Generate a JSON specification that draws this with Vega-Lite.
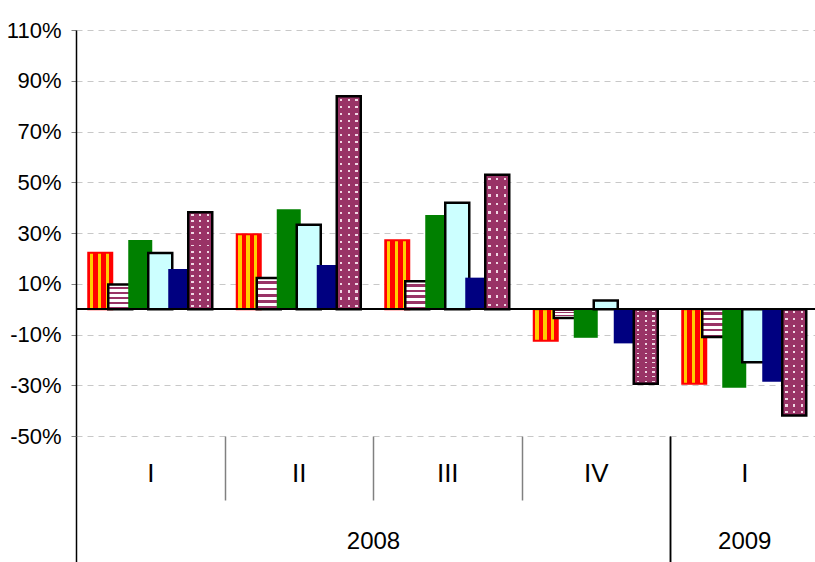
{
  "$schema": "https://vega.github.io/schema/vega-lite/v6.json",
  "background": "white",
  "padding": {"left": 6, "top": 19, "right": 0, "bottom": 0},
  "spacing": 0,
  "bounds": "flush",
  "config": {"view": {"stroke": null}},
  "data": {"values": [
    {"year": "2008", "q": "I", "s": "S1", "v": 22.2},
    {"year": "2008", "q": "I", "s": "S2", "v": 9.7},
    {"year": "2008", "q": "I", "s": "S3", "v": 27.2},
    {"year": "2008", "q": "I", "s": "S4", "v": 22.1},
    {"year": "2008", "q": "I", "s": "S5", "v": 15.8},
    {"year": "2008", "q": "I", "s": "S6", "v": 38.2},
    {"year": "2008", "q": "II", "s": "S1", "v": 29.5},
    {"year": "2008", "q": "II", "s": "S2", "v": 12.3},
    {"year": "2008", "q": "II", "s": "S3", "v": 39.4},
    {"year": "2008", "q": "II", "s": "S4", "v": 33.3},
    {"year": "2008", "q": "II", "s": "S5", "v": 17.4},
    {"year": "2008", "q": "II", "s": "S6", "v": 83.9},
    {"year": "2008", "q": "III", "s": "S1", "v": 27.1},
    {"year": "2008", "q": "III", "s": "S2", "v": 11.0},
    {"year": "2008", "q": "III", "s": "S3", "v": 37.1},
    {"year": "2008", "q": "III", "s": "S4", "v": 41.9},
    {"year": "2008", "q": "III", "s": "S5", "v": 12.4},
    {"year": "2008", "q": "III", "s": "S6", "v": 53.0},
    {"year": "2008", "q": "IV", "s": "S1", "v": -12.5},
    {"year": "2008", "q": "IV", "s": "S2", "v": -3.5},
    {"year": "2008", "q": "IV", "s": "S3", "v": -11.3},
    {"year": "2008", "q": "IV", "s": "S4", "v": 3.4},
    {"year": "2008", "q": "IV", "s": "S5", "v": -13.5},
    {"year": "2008", "q": "IV", "s": "S6", "v": -29.4},
    {"year": "2009", "q": "I", "s": "S1", "v": -29.4},
    {"year": "2009", "q": "I", "s": "S2", "v": -11.0},
    {"year": "2009", "q": "I", "s": "S3", "v": -31.0},
    {"year": "2009", "q": "I", "s": "S4", "v": -20.9},
    {"year": "2009", "q": "I", "s": "S5", "v": -28.6},
    {"year": "2009", "q": "I", "s": "S6", "v": -41.9}
  ]},
  "resolve": {"scale": {"x": "independent", "y": "independent"}, "axis": {"x": "independent", "y": "independent"}},
  "hconcat": [
    {
      "width": 594,
      "height": 406,
      "transform": [{"filter": "datum.year === '2008'"}],
      "layer": [
        {
          "mark": {"type": "bar", "width": 24},
          "encoding": {
            "x": {"field": "q", "type": "nominal", "title": "2008",
              "scale": {"domain": ["I", "II", "III", "IV"], "paddingInner": 0, "paddingOuter": 0},
              "axis": {"labelAngle": 0, "labelFont": "Liberation Sans", "labelFontSize": 26, "labelColor": "#000000", "labelBaseline": "top",
                "labelPadding": {"condition": {"test": "!datum.value || datum.value === 'IV'", "value": -102}, "value": -40},
                "tickBand": "extent", "tickSize": {"condition": {"test": "!datum.value || datum.value === 'IV'", "value": 126}, "value": 64},
                "tickColor": {"condition": {"test": "!datum.value || datum.value === 'IV'", "value": "#000000"}, "value": "#808080"}, "tickWidth": 1.5,
                "domain": false, "grid": false,
                "titleFont": "Liberation Sans", "titleFontSize": 24, "titleFontWeight": "normal", "titleColor": "#000000", "titleBaseline": "middle", "titleY": 105}},
            "xOffset": {"field": "s", "type": "nominal", "scale": {"domain": ["S1", "S2", "S3", "S4", "S5", "S6"], "paddingInner": 0, "paddingOuter": 0.7125}},
            "y": {"field": "v", "type": "quantitative", "title": null,
              "scale": {"domain": [-50, 110], "nice": false, "zero": false},
              "axis": {"values": [-50, -30, -10, 10, 30, 50, 70, 90, 110], "labelExpr": "(datum.value < 0 ? '-' : '') + abs(datum.value) + '%'",
                "labelFont": "Liberation Sans", "labelFontSize": 22, "labelColor": "#000000", "labelPadding": 10,
                "tickSize": 5, "tickColor": "#808080", "domainColor": "#000000", "domainWidth": 1.5,
                "grid": true, "gridColor": "#c8c8c8", "gridDash": [6, 5]}},
            "fill": {"condition": [
              {"test": "datum.s === 'S1'", "value": {"gradient": "linear", "x1": 0, "y1": 0, "x2": 1, "y2": 0, "stops": [
                {"offset": 0, "color": "#ff0000"}, {"offset": 0.06, "color": "#ff0000"}, {"offset": 0.06, "color": "#ffcc00"}, {"offset": 0.2, "color": "#ffcc00"},
                {"offset": 0.2, "color": "#ff0000"}, {"offset": 0.4, "color": "#ff0000"}, {"offset": 0.4, "color": "#ffcc00"}, {"offset": 0.54, "color": "#ffcc00"},
                {"offset": 0.54, "color": "#ff0000"}, {"offset": 0.72, "color": "#ff0000"}, {"offset": 0.72, "color": "#ffcc00"}, {"offset": 0.86, "color": "#ffcc00"},
                {"offset": 0.86, "color": "#ff0000"}, {"offset": 1, "color": "#ff0000"}]}},
              {"test": "datum.s === 'S2'", "value": {"gradient": "linear", "x1": 0, "y1": 0, "x2": 0, "y2": 1, "stops": [
                {"offset": 0, "color": "#ffffff"}, {"offset": 0.11, "color": "#ffffff"}, {"offset": 0.11, "color": "#993366"}, {"offset": 0.2, "color": "#993366"},
                {"offset": 0.2, "color": "#ffffff"}, {"offset": 0.31, "color": "#ffffff"}, {"offset": 0.31, "color": "#993366"}, {"offset": 0.4, "color": "#993366"},
                {"offset": 0.4, "color": "#ffffff"}, {"offset": 0.51, "color": "#ffffff"}, {"offset": 0.51, "color": "#993366"}, {"offset": 0.6, "color": "#993366"},
                {"offset": 0.6, "color": "#ffffff"}, {"offset": 0.71, "color": "#ffffff"}, {"offset": 0.71, "color": "#993366"}, {"offset": 0.8, "color": "#993366"},
                {"offset": 0.8, "color": "#ffffff"}, {"offset": 0.91, "color": "#ffffff"}, {"offset": 0.91, "color": "#993366"}, {"offset": 1, "color": "#993366"}]}},
              {"test": "datum.s === 'S3'", "value": "#008000"},
              {"test": "datum.s === 'S4'", "value": "#ccffff"},
              {"test": "datum.s === 'S5'", "value": "#000080"}],
              "value": {"gradient": "linear", "x1": 0, "y1": 0, "x2": 1, "y2": 0, "stops": [
                {"offset": 0, "color": "#993366"}, {"offset": 0.13, "color": "#993366"}, {"offset": 0.13, "color": "#f0d8e4"}, {"offset": 0.22, "color": "#f0d8e4"},
                {"offset": 0.22, "color": "#993366"}, {"offset": 0.455, "color": "#993366"}, {"offset": 0.455, "color": "#f0d8e4"}, {"offset": 0.545, "color": "#f0d8e4"},
                {"offset": 0.545, "color": "#993366"}, {"offset": 0.78, "color": "#993366"}, {"offset": 0.78, "color": "#f0d8e4"}, {"offset": 0.87, "color": "#f0d8e4"},
                {"offset": 0.87, "color": "#993366"}, {"offset": 1, "color": "#993366"}]}},
            "stroke": {"condition": [{"test": "datum.s === 'S1'", "value": "#ff0000"}, {"test": "datum.s === 'S2' || datum.s === 'S4'", "value": "#000000"}], "value": "transparent"},
            "strokeWidth": {"condition": {"test": "datum.s === 'S1'", "value": 2}, "value": 2.5}
          }
        },
        {
          "transform": [{"filter": "datum.s === 'S6'"}],
          "mark": {"type": "bar", "width": 24, "stroke": "#000000", "strokeWidth": 2.5},
          "encoding": {
            "x": {"field": "q", "type": "nominal", "title": "2008", "scale": {"domain": ["I", "II", "III", "IV"], "paddingInner": 0, "paddingOuter": 0}},
            "xOffset": {"field": "s", "type": "nominal", "scale": {"domain": ["S1", "S2", "S3", "S4", "S5", "S6"], "paddingInner": 0, "paddingOuter": 0.7125}},
            "y": {"field": "v", "type": "quantitative", "title": null, "scale": {"domain": [-50, 110], "nice": false, "zero": false}},
            "fill": {"condition": {"test": "abs(datum.v) > 70", "value": {"gradient": "linear", "x1": 0, "y1": 0, "x2": 0, "y2": 1, "stops": [
              {"offset": 0, "color": "#993366"},
              {"offset": 0.012, "color": "#993366"}, {"offset": 0.012, "color": "rgba(153,51,102,0)"}, {"offset": 0.022, "color": "rgba(153,51,102,0)"}, {"offset": 0.022, "color": "#993366"},
              {"offset": 0.0453, "color": "#993366"}, {"offset": 0.0453, "color": "rgba(153,51,102,0)"}, {"offset": 0.0553, "color": "rgba(153,51,102,0)"}, {"offset": 0.0553, "color": "#993366"},
              {"offset": 0.0787, "color": "#993366"}, {"offset": 0.0787, "color": "rgba(153,51,102,0)"}, {"offset": 0.0887, "color": "rgba(153,51,102,0)"}, {"offset": 0.0887, "color": "#993366"},
              {"offset": 0.112, "color": "#993366"}, {"offset": 0.112, "color": "rgba(153,51,102,0)"}, {"offset": 0.122, "color": "rgba(153,51,102,0)"}, {"offset": 0.122, "color": "#993366"},
              {"offset": 0.1453, "color": "#993366"}, {"offset": 0.1453, "color": "rgba(153,51,102,0)"}, {"offset": 0.1553, "color": "rgba(153,51,102,0)"}, {"offset": 0.1553, "color": "#993366"},
              {"offset": 0.1787, "color": "#993366"}, {"offset": 0.1787, "color": "rgba(153,51,102,0)"}, {"offset": 0.1887, "color": "rgba(153,51,102,0)"}, {"offset": 0.1887, "color": "#993366"},
              {"offset": 0.212, "color": "#993366"}, {"offset": 0.212, "color": "rgba(153,51,102,0)"}, {"offset": 0.222, "color": "rgba(153,51,102,0)"}, {"offset": 0.222, "color": "#993366"},
              {"offset": 0.2453, "color": "#993366"}, {"offset": 0.2453, "color": "rgba(153,51,102,0)"}, {"offset": 0.2553, "color": "rgba(153,51,102,0)"}, {"offset": 0.2553, "color": "#993366"},
              {"offset": 0.2787, "color": "#993366"}, {"offset": 0.2787, "color": "rgba(153,51,102,0)"}, {"offset": 0.2887, "color": "rgba(153,51,102,0)"}, {"offset": 0.2887, "color": "#993366"},
              {"offset": 0.312, "color": "#993366"}, {"offset": 0.312, "color": "rgba(153,51,102,0)"}, {"offset": 0.322, "color": "rgba(153,51,102,0)"}, {"offset": 0.322, "color": "#993366"},
              {"offset": 0.3453, "color": "#993366"}, {"offset": 0.3453, "color": "rgba(153,51,102,0)"}, {"offset": 0.3553, "color": "rgba(153,51,102,0)"}, {"offset": 0.3553, "color": "#993366"},
              {"offset": 0.3787, "color": "#993366"}, {"offset": 0.3787, "color": "rgba(153,51,102,0)"}, {"offset": 0.3887, "color": "rgba(153,51,102,0)"}, {"offset": 0.3887, "color": "#993366"},
              {"offset": 0.412, "color": "#993366"}, {"offset": 0.412, "color": "rgba(153,51,102,0)"}, {"offset": 0.422, "color": "rgba(153,51,102,0)"}, {"offset": 0.422, "color": "#993366"},
              {"offset": 0.4453, "color": "#993366"}, {"offset": 0.4453, "color": "rgba(153,51,102,0)"}, {"offset": 0.4553, "color": "rgba(153,51,102,0)"}, {"offset": 0.4553, "color": "#993366"},
              {"offset": 0.4787, "color": "#993366"}, {"offset": 0.4787, "color": "rgba(153,51,102,0)"}, {"offset": 0.4887, "color": "rgba(153,51,102,0)"}, {"offset": 0.4887, "color": "#993366"},
              {"offset": 0.512, "color": "#993366"}, {"offset": 0.512, "color": "rgba(153,51,102,0)"}, {"offset": 0.522, "color": "rgba(153,51,102,0)"}, {"offset": 0.522, "color": "#993366"},
              {"offset": 0.5453, "color": "#993366"}, {"offset": 0.5453, "color": "rgba(153,51,102,0)"}, {"offset": 0.5553, "color": "rgba(153,51,102,0)"}, {"offset": 0.5553, "color": "#993366"},
              {"offset": 0.5787, "color": "#993366"}, {"offset": 0.5787, "color": "rgba(153,51,102,0)"}, {"offset": 0.5887, "color": "rgba(153,51,102,0)"}, {"offset": 0.5887, "color": "#993366"},
              {"offset": 0.612, "color": "#993366"}, {"offset": 0.612, "color": "rgba(153,51,102,0)"}, {"offset": 0.622, "color": "rgba(153,51,102,0)"}, {"offset": 0.622, "color": "#993366"},
              {"offset": 0.6453, "color": "#993366"}, {"offset": 0.6453, "color": "rgba(153,51,102,0)"}, {"offset": 0.6553, "color": "rgba(153,51,102,0)"}, {"offset": 0.6553, "color": "#993366"},
              {"offset": 0.6787, "color": "#993366"}, {"offset": 0.6787, "color": "rgba(153,51,102,0)"}, {"offset": 0.6887, "color": "rgba(153,51,102,0)"}, {"offset": 0.6887, "color": "#993366"},
              {"offset": 0.712, "color": "#993366"}, {"offset": 0.712, "color": "rgba(153,51,102,0)"}, {"offset": 0.722, "color": "rgba(153,51,102,0)"}, {"offset": 0.722, "color": "#993366"},
              {"offset": 0.7453, "color": "#993366"}, {"offset": 0.7453, "color": "rgba(153,51,102,0)"}, {"offset": 0.7553, "color": "rgba(153,51,102,0)"}, {"offset": 0.7553, "color": "#993366"},
              {"offset": 0.7787, "color": "#993366"}, {"offset": 0.7787, "color": "rgba(153,51,102,0)"}, {"offset": 0.7887, "color": "rgba(153,51,102,0)"}, {"offset": 0.7887, "color": "#993366"},
              {"offset": 0.812, "color": "#993366"}, {"offset": 0.812, "color": "rgba(153,51,102,0)"}, {"offset": 0.822, "color": "rgba(153,51,102,0)"}, {"offset": 0.822, "color": "#993366"},
              {"offset": 0.8453, "color": "#993366"}, {"offset": 0.8453, "color": "rgba(153,51,102,0)"}, {"offset": 0.8553, "color": "rgba(153,51,102,0)"}, {"offset": 0.8553, "color": "#993366"},
              {"offset": 0.8787, "color": "#993366"}, {"offset": 0.8787, "color": "rgba(153,51,102,0)"}, {"offset": 0.8887, "color": "rgba(153,51,102,0)"}, {"offset": 0.8887, "color": "#993366"},
              {"offset": 0.912, "color": "#993366"}, {"offset": 0.912, "color": "rgba(153,51,102,0)"}, {"offset": 0.922, "color": "rgba(153,51,102,0)"}, {"offset": 0.922, "color": "#993366"},
              {"offset": 0.9453, "color": "#993366"}, {"offset": 0.9453, "color": "rgba(153,51,102,0)"}, {"offset": 0.9553, "color": "rgba(153,51,102,0)"}, {"offset": 0.9553, "color": "#993366"},
              {"offset": 0.9787, "color": "#993366"}, {"offset": 0.9787, "color": "rgba(153,51,102,0)"}, {"offset": 0.9887, "color": "rgba(153,51,102,0)"}, {"offset": 0.9887, "color": "#993366"},
              {"offset": 1, "color": "#993366"}]}},
              "value": {"gradient": "linear", "x1": 0, "y1": 0, "x2": 0, "y2": 1, "stops": [
              {"offset": 0, "color": "#993366"},
              {"offset": 0.022, "color": "#993366"}, {"offset": 0.022, "color": "rgba(153,51,102,0)"}, {"offset": 0.041, "color": "rgba(153,51,102,0)"}, {"offset": 0.041, "color": "#993366"},
              {"offset": 0.0845, "color": "#993366"}, {"offset": 0.0845, "color": "rgba(153,51,102,0)"}, {"offset": 0.1035, "color": "rgba(153,51,102,0)"}, {"offset": 0.1035, "color": "#993366"},
              {"offset": 0.147, "color": "#993366"}, {"offset": 0.147, "color": "rgba(153,51,102,0)"}, {"offset": 0.166, "color": "rgba(153,51,102,0)"}, {"offset": 0.166, "color": "#993366"},
              {"offset": 0.2095, "color": "#993366"}, {"offset": 0.2095, "color": "rgba(153,51,102,0)"}, {"offset": 0.2285, "color": "rgba(153,51,102,0)"}, {"offset": 0.2285, "color": "#993366"},
              {"offset": 0.272, "color": "#993366"}, {"offset": 0.272, "color": "rgba(153,51,102,0)"}, {"offset": 0.291, "color": "rgba(153,51,102,0)"}, {"offset": 0.291, "color": "#993366"},
              {"offset": 0.3345, "color": "#993366"}, {"offset": 0.3345, "color": "rgba(153,51,102,0)"}, {"offset": 0.3535, "color": "rgba(153,51,102,0)"}, {"offset": 0.3535, "color": "#993366"},
              {"offset": 0.397, "color": "#993366"}, {"offset": 0.397, "color": "rgba(153,51,102,0)"}, {"offset": 0.416, "color": "rgba(153,51,102,0)"}, {"offset": 0.416, "color": "#993366"},
              {"offset": 0.4595, "color": "#993366"}, {"offset": 0.4595, "color": "rgba(153,51,102,0)"}, {"offset": 0.4785, "color": "rgba(153,51,102,0)"}, {"offset": 0.4785, "color": "#993366"},
              {"offset": 0.522, "color": "#993366"}, {"offset": 0.522, "color": "rgba(153,51,102,0)"}, {"offset": 0.541, "color": "rgba(153,51,102,0)"}, {"offset": 0.541, "color": "#993366"},
              {"offset": 0.5845, "color": "#993366"}, {"offset": 0.5845, "color": "rgba(153,51,102,0)"}, {"offset": 0.6035, "color": "rgba(153,51,102,0)"}, {"offset": 0.6035, "color": "#993366"},
              {"offset": 0.647, "color": "#993366"}, {"offset": 0.647, "color": "rgba(153,51,102,0)"}, {"offset": 0.666, "color": "rgba(153,51,102,0)"}, {"offset": 0.666, "color": "#993366"},
              {"offset": 0.7095, "color": "#993366"}, {"offset": 0.7095, "color": "rgba(153,51,102,0)"}, {"offset": 0.7285, "color": "rgba(153,51,102,0)"}, {"offset": 0.7285, "color": "#993366"},
              {"offset": 0.772, "color": "#993366"}, {"offset": 0.772, "color": "rgba(153,51,102,0)"}, {"offset": 0.791, "color": "rgba(153,51,102,0)"}, {"offset": 0.791, "color": "#993366"},
              {"offset": 0.8345, "color": "#993366"}, {"offset": 0.8345, "color": "rgba(153,51,102,0)"}, {"offset": 0.8535, "color": "rgba(153,51,102,0)"}, {"offset": 0.8535, "color": "#993366"},
              {"offset": 0.897, "color": "#993366"}, {"offset": 0.897, "color": "rgba(153,51,102,0)"}, {"offset": 0.916, "color": "rgba(153,51,102,0)"}, {"offset": 0.916, "color": "#993366"},
              {"offset": 0.9595, "color": "#993366"}, {"offset": 0.9595, "color": "rgba(153,51,102,0)"}, {"offset": 0.9785, "color": "rgba(153,51,102,0)"}, {"offset": 0.9785, "color": "#993366"},
              {"offset": 1, "color": "#993366"}]}}
          }
        },
        {
          "mark": {"type": "rule", "color": "#000000", "strokeWidth": 1.2},
          "encoding": {"y": {"datum": 0, "type": "quantitative"}}
        }
      ]
    },
    {
      "width": 148.5,
      "height": 406,
      "transform": [{"filter": "datum.year === '2009'"}],
      "layer": [
        {
          "mark": {"type": "bar", "width": 24},
          "encoding": {
            "x": {"field": "q", "type": "nominal", "title": "2009",
              "scale": {"domain": ["I"], "paddingInner": 0, "paddingOuter": 0},
              "axis": {"labelAngle": 0, "labelFont": "Liberation Sans", "labelFontSize": 26, "labelColor": "#000000", "labelBaseline": "top",
                "labelPadding": {"condition": {"test": "!datum.value", "value": -102}, "value": -40},
                "tickBand": "extent", "tickSize": {"condition": {"test": "!datum.value", "value": 126}, "value": 64},
                "tickColor": "#000000", "tickWidth": 1.5,
                "domain": false, "grid": false,
                "titleFont": "Liberation Sans", "titleFontSize": 24, "titleFontWeight": "normal", "titleColor": "#000000", "titleBaseline": "middle", "titleY": 105}},
            "xOffset": {"field": "s", "type": "nominal", "scale": {"domain": ["S1", "S2", "S3", "S4", "S5", "S6"], "paddingInner": 0, "paddingOuter": 0.7125}},
            "y": {"field": "v", "type": "quantitative", "title": null,
              "scale": {"domain": [-50, 110], "nice": false, "zero": false},
              "axis": {"values": [-50, -30, -10, 10, 30, 50, 70, 90, 110], "labels": false, "ticks": false, "domain": false,
                "grid": true, "gridColor": "#c8c8c8", "gridDash": [6, 5], "minExtent": 0, "maxExtent": 0}},
            "fill": {"condition": [
              {"test": "datum.s === 'S1'", "value": {"gradient": "linear", "x1": 0, "y1": 0, "x2": 1, "y2": 0, "stops": [
                {"offset": 0, "color": "#ff0000"}, {"offset": 0.06, "color": "#ff0000"}, {"offset": 0.06, "color": "#ffcc00"}, {"offset": 0.2, "color": "#ffcc00"},
                {"offset": 0.2, "color": "#ff0000"}, {"offset": 0.4, "color": "#ff0000"}, {"offset": 0.4, "color": "#ffcc00"}, {"offset": 0.54, "color": "#ffcc00"},
                {"offset": 0.54, "color": "#ff0000"}, {"offset": 0.72, "color": "#ff0000"}, {"offset": 0.72, "color": "#ffcc00"}, {"offset": 0.86, "color": "#ffcc00"},
                {"offset": 0.86, "color": "#ff0000"}, {"offset": 1, "color": "#ff0000"}]}},
              {"test": "datum.s === 'S2'", "value": {"gradient": "linear", "x1": 0, "y1": 0, "x2": 0, "y2": 1, "stops": [
                {"offset": 0, "color": "#ffffff"}, {"offset": 0.11, "color": "#ffffff"}, {"offset": 0.11, "color": "#993366"}, {"offset": 0.2, "color": "#993366"},
                {"offset": 0.2, "color": "#ffffff"}, {"offset": 0.31, "color": "#ffffff"}, {"offset": 0.31, "color": "#993366"}, {"offset": 0.4, "color": "#993366"},
                {"offset": 0.4, "color": "#ffffff"}, {"offset": 0.51, "color": "#ffffff"}, {"offset": 0.51, "color": "#993366"}, {"offset": 0.6, "color": "#993366"},
                {"offset": 0.6, "color": "#ffffff"}, {"offset": 0.71, "color": "#ffffff"}, {"offset": 0.71, "color": "#993366"}, {"offset": 0.8, "color": "#993366"},
                {"offset": 0.8, "color": "#ffffff"}, {"offset": 0.91, "color": "#ffffff"}, {"offset": 0.91, "color": "#993366"}, {"offset": 1, "color": "#993366"}]}},
              {"test": "datum.s === 'S3'", "value": "#008000"},
              {"test": "datum.s === 'S4'", "value": "#ccffff"},
              {"test": "datum.s === 'S5'", "value": "#000080"}],
              "value": {"gradient": "linear", "x1": 0, "y1": 0, "x2": 1, "y2": 0, "stops": [
                {"offset": 0, "color": "#993366"}, {"offset": 0.13, "color": "#993366"}, {"offset": 0.13, "color": "#f0d8e4"}, {"offset": 0.22, "color": "#f0d8e4"},
                {"offset": 0.22, "color": "#993366"}, {"offset": 0.455, "color": "#993366"}, {"offset": 0.455, "color": "#f0d8e4"}, {"offset": 0.545, "color": "#f0d8e4"},
                {"offset": 0.545, "color": "#993366"}, {"offset": 0.78, "color": "#993366"}, {"offset": 0.78, "color": "#f0d8e4"}, {"offset": 0.87, "color": "#f0d8e4"},
                {"offset": 0.87, "color": "#993366"}, {"offset": 1, "color": "#993366"}]}},
            "stroke": {"condition": [{"test": "datum.s === 'S1'", "value": "#ff0000"}, {"test": "datum.s === 'S2' || datum.s === 'S4'", "value": "#000000"}], "value": "transparent"},
            "strokeWidth": {"condition": {"test": "datum.s === 'S1'", "value": 2}, "value": 2.5}
          }
        },
        {
          "transform": [{"filter": "datum.s === 'S6'"}],
          "mark": {"type": "bar", "width": 24, "stroke": "#000000", "strokeWidth": 2.5},
          "encoding": {
            "x": {"field": "q", "type": "nominal", "title": "2009", "scale": {"domain": ["I"], "paddingInner": 0, "paddingOuter": 0}},
            "xOffset": {"field": "s", "type": "nominal", "scale": {"domain": ["S1", "S2", "S3", "S4", "S5", "S6"], "paddingInner": 0, "paddingOuter": 0.7125}},
            "y": {"field": "v", "type": "quantitative", "title": null, "scale": {"domain": [-50, 110], "nice": false, "zero": false}},
            "fill": {"value": {"gradient": "linear", "x1": 0, "y1": 0, "x2": 0, "y2": 1, "stops": [
              {"offset": 0, "color": "#993366"},
              {"offset": 0.022, "color": "#993366"}, {"offset": 0.022, "color": "rgba(153,51,102,0)"}, {"offset": 0.041, "color": "rgba(153,51,102,0)"}, {"offset": 0.041, "color": "#993366"},
              {"offset": 0.0845, "color": "#993366"}, {"offset": 0.0845, "color": "rgba(153,51,102,0)"}, {"offset": 0.1035, "color": "rgba(153,51,102,0)"}, {"offset": 0.1035, "color": "#993366"},
              {"offset": 0.147, "color": "#993366"}, {"offset": 0.147, "color": "rgba(153,51,102,0)"}, {"offset": 0.166, "color": "rgba(153,51,102,0)"}, {"offset": 0.166, "color": "#993366"},
              {"offset": 0.2095, "color": "#993366"}, {"offset": 0.2095, "color": "rgba(153,51,102,0)"}, {"offset": 0.2285, "color": "rgba(153,51,102,0)"}, {"offset": 0.2285, "color": "#993366"},
              {"offset": 0.272, "color": "#993366"}, {"offset": 0.272, "color": "rgba(153,51,102,0)"}, {"offset": 0.291, "color": "rgba(153,51,102,0)"}, {"offset": 0.291, "color": "#993366"},
              {"offset": 0.3345, "color": "#993366"}, {"offset": 0.3345, "color": "rgba(153,51,102,0)"}, {"offset": 0.3535, "color": "rgba(153,51,102,0)"}, {"offset": 0.3535, "color": "#993366"},
              {"offset": 0.397, "color": "#993366"}, {"offset": 0.397, "color": "rgba(153,51,102,0)"}, {"offset": 0.416, "color": "rgba(153,51,102,0)"}, {"offset": 0.416, "color": "#993366"},
              {"offset": 0.4595, "color": "#993366"}, {"offset": 0.4595, "color": "rgba(153,51,102,0)"}, {"offset": 0.4785, "color": "rgba(153,51,102,0)"}, {"offset": 0.4785, "color": "#993366"},
              {"offset": 0.522, "color": "#993366"}, {"offset": 0.522, "color": "rgba(153,51,102,0)"}, {"offset": 0.541, "color": "rgba(153,51,102,0)"}, {"offset": 0.541, "color": "#993366"},
              {"offset": 0.5845, "color": "#993366"}, {"offset": 0.5845, "color": "rgba(153,51,102,0)"}, {"offset": 0.6035, "color": "rgba(153,51,102,0)"}, {"offset": 0.6035, "color": "#993366"},
              {"offset": 0.647, "color": "#993366"}, {"offset": 0.647, "color": "rgba(153,51,102,0)"}, {"offset": 0.666, "color": "rgba(153,51,102,0)"}, {"offset": 0.666, "color": "#993366"},
              {"offset": 0.7095, "color": "#993366"}, {"offset": 0.7095, "color": "rgba(153,51,102,0)"}, {"offset": 0.7285, "color": "rgba(153,51,102,0)"}, {"offset": 0.7285, "color": "#993366"},
              {"offset": 0.772, "color": "#993366"}, {"offset": 0.772, "color": "rgba(153,51,102,0)"}, {"offset": 0.791, "color": "rgba(153,51,102,0)"}, {"offset": 0.791, "color": "#993366"},
              {"offset": 0.8345, "color": "#993366"}, {"offset": 0.8345, "color": "rgba(153,51,102,0)"}, {"offset": 0.8535, "color": "rgba(153,51,102,0)"}, {"offset": 0.8535, "color": "#993366"},
              {"offset": 0.897, "color": "#993366"}, {"offset": 0.897, "color": "rgba(153,51,102,0)"}, {"offset": 0.916, "color": "rgba(153,51,102,0)"}, {"offset": 0.916, "color": "#993366"},
              {"offset": 0.9595, "color": "#993366"}, {"offset": 0.9595, "color": "rgba(153,51,102,0)"}, {"offset": 0.9785, "color": "rgba(153,51,102,0)"}, {"offset": 0.9785, "color": "#993366"},
              {"offset": 1, "color": "#993366"}]}}
          }
        },
        {
          "mark": {"type": "rule", "color": "#000000", "strokeWidth": 1.2},
          "encoding": {"y": {"datum": 0, "type": "quantitative"}}
        }
      ]
    }
  ]
}
